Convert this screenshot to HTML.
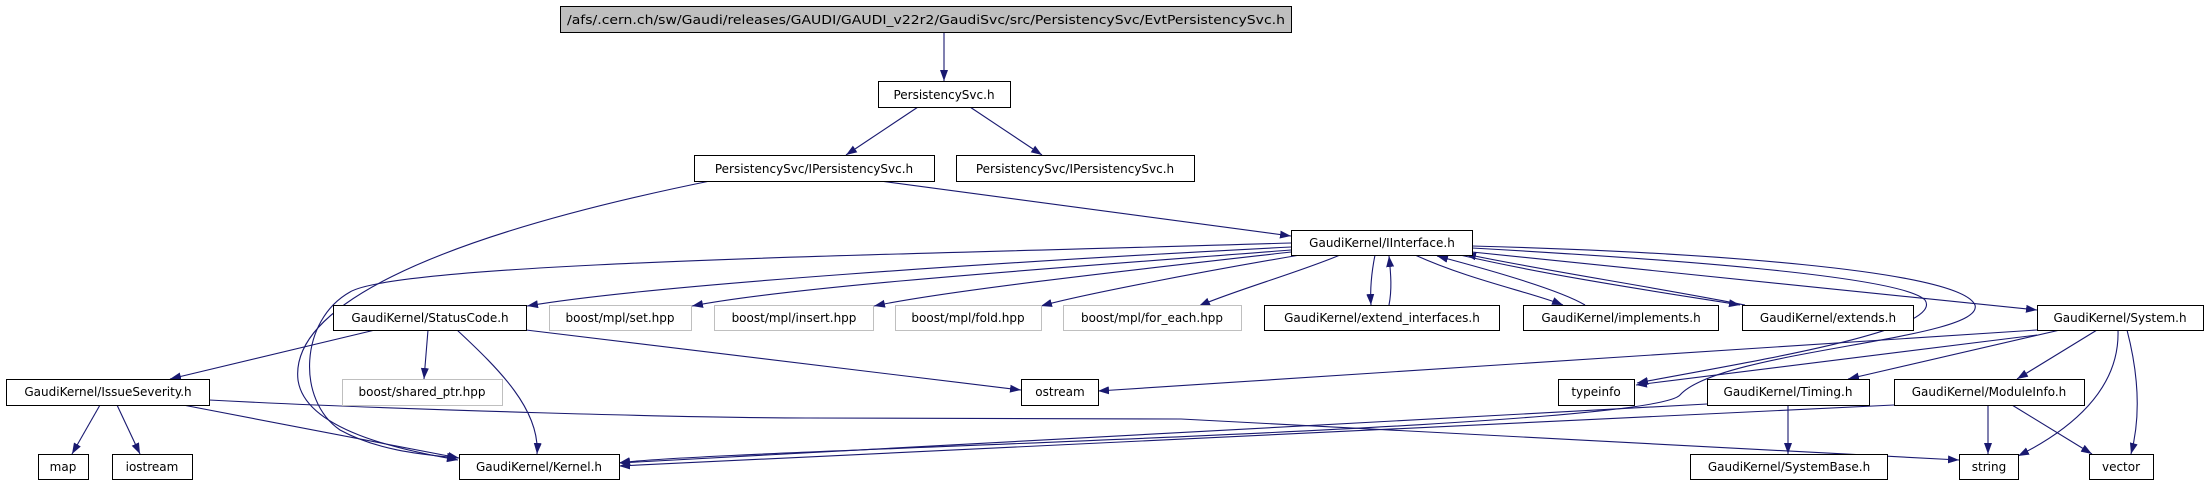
<!DOCTYPE html>
<html><head><meta charset="utf-8"><style>
html,body{margin:0;padding:0;background:#fff;}
svg{display:block;}
text{font-family:"DejaVu Sans","Liberation Sans",sans-serif;font-size:12px;fill:#000;}
</style></head><body>
<svg width="2208" height="485" viewBox="0 0 2208 485" xmlns="http://www.w3.org/2000/svg">
<defs>
<marker id="a" markerUnits="userSpaceOnUse" markerWidth="12" markerHeight="10" refX="11" refY="4" orient="auto">
<path d="M0,0 L11,4 L0,8 z" fill="#191970"/>
</marker>
</defs>
<g fill="none" stroke="#191970" stroke-width="1.1" marker-end="url(#a)">
<path d="M944,32 L944,81"/>
<path d="M918,107 L846,155"/>
<path d="M970,107 L1042,155"/>
<path d="M710,181 C420,240 290,310 298,380 C305,430 400,450 458,460"/>
<path d="M880,181 L1291,236"/>
<path d="M1291,243 C900,255 400,262 350,292 C300,320 296,400 340,430 C380,452 430,455 458,458"/>
<path d="M1291,247 C1000,262 650,285 527,306"/>
<path d="M1291,250 C1100,265 800,285 692,306"/>
<path d="M1291,252 C1150,268 950,290 874,306"/>
<path d="M1300,255 C1200,272 1080,295 1041,306"/>
<path d="M1340,255 C1300,272 1230,292 1199,306"/>
<path d="M1375,255 C1371,275 1370,290 1371,305"/>
<path d="M1389,305 C1392,290 1391,275 1389,256"/>
<path d="M1415,255 C1470,280 1530,292 1563,305"/>
<path d="M1585,305 C1560,290 1490,270 1437,256"/>
<path d="M1460,255 C1560,278 1680,295 1740,305"/>
<path d="M1745,305 C1660,288 1540,270 1465,254"/>
<path d="M1472,252 C1700,275 1900,295 2037,310"/>
<path d="M1472,248 C1650,258 1900,275 1925,300 C1945,330 1760,360 1637,383"/>
<path d="M1472,246 C1700,252 1960,270 1975,305 C1985,340 1720,350 1680,395 C1650,430 700,450 619,463"/>
<path d="M375,330 L170,379"/>
<path d="M428,330 L424,379"/>
<path d="M457,330 C500,370 540,410 537,454"/>
<path d="M526,330 L1021,390"/>
<path d="M2037,330 L1098,391"/>
<path d="M2037,335 L1636,385"/>
<path d="M2060,330 L1848,379"/>
<path d="M2097,330 L2017,379"/>
<path d="M2118,330 C2120,390 2070,430 2018,456"/>
<path d="M2127,330 C2140,380 2140,420 2131,454"/>
<path d="M100,405 L72,454"/>
<path d="M117,405 L140,454"/>
<path d="M183,405 L459,458"/>
<path d="M209,400 C400,410 700,418 807,418 L1181,419 L1959,460"/>
<path d="M1707,404 L619,463"/>
<path d="M1788,405 L1788,454"/>
<path d="M1894,405 L619,466"/>
<path d="M1988,405 L1988,454"/>
<path d="M2012,405 L2092,454"/>
</g>
<g stroke-width="1" shape-rendering="crispEdges">
<rect x="560.5" y="6.5" width="731" height="26" fill="#bfbfbf" stroke="#000"/>
<rect x="878.5" y="81.5" width="132" height="26" fill="#fff" stroke="#000"/>
<rect x="694.5" y="155.5" width="240" height="26" fill="#fff" stroke="#000"/>
<rect x="956.5" y="155.5" width="238" height="26" fill="#fff" stroke="#000"/>
<rect x="1291.5" y="230.5" width="181" height="25" fill="#fff" stroke="#000"/>
<rect x="333.5" y="305.5" width="193" height="25" fill="#fff" stroke="#000"/>
<rect x="549.5" y="305.5" width="142" height="25" fill="#fff" stroke="#bfbfbf"/>
<rect x="714.5" y="305.5" width="159" height="25" fill="#fff" stroke="#bfbfbf"/>
<rect x="895.5" y="305.5" width="146" height="25" fill="#fff" stroke="#bfbfbf"/>
<rect x="1063.5" y="305.5" width="178" height="25" fill="#fff" stroke="#bfbfbf"/>
<rect x="1264.5" y="305.5" width="235" height="25" fill="#fff" stroke="#000"/>
<rect x="1523.5" y="305.5" width="195" height="25" fill="#fff" stroke="#000"/>
<rect x="1742.5" y="305.5" width="171" height="25" fill="#fff" stroke="#000"/>
<rect x="2037.5" y="305.5" width="166" height="25" fill="#fff" stroke="#000"/>
<rect x="6.5" y="379.5" width="203" height="26" fill="#fff" stroke="#000"/>
<rect x="342.5" y="379.5" width="160" height="26" fill="#fff" stroke="#bfbfbf"/>
<rect x="1021.5" y="379.5" width="77" height="26" fill="#fff" stroke="#000"/>
<rect x="1558.5" y="379.5" width="76" height="26" fill="#fff" stroke="#000"/>
<rect x="1707.5" y="379.5" width="162" height="26" fill="#fff" stroke="#000"/>
<rect x="1894.5" y="379.5" width="190" height="26" fill="#fff" stroke="#000"/>
<rect x="38.5" y="454.5" width="50" height="25" fill="#fff" stroke="#000"/>
<rect x="112.5" y="454.5" width="80" height="25" fill="#fff" stroke="#000"/>
<rect x="459.5" y="454.5" width="160" height="25" fill="#fff" stroke="#000"/>
<rect x="1690.5" y="454.5" width="197" height="25" fill="#fff" stroke="#000"/>
<rect x="1959.5" y="454.5" width="59" height="25" fill="#fff" stroke="#000"/>
<rect x="2089.5" y="454.5" width="64" height="25" fill="#fff" stroke="#000"/>
</g>
<g text-anchor="middle">
<text x="926" y="24" textLength="718" lengthAdjust="spacingAndGlyphs">/afs/.cern.ch/sw/Gaudi/releases/GAUDI/GAUDI_v22r2/GaudiSvc/src/PersistencySvc/EvtPersistencySvc.h</text>
<text x="944" y="99">PersistencySvc.h</text>
<text x="814" y="173">PersistencySvc/IPersistencySvc.h</text>
<text x="1075" y="173">PersistencySvc/IPersistencySvc.h</text>
<text x="1382" y="247">GaudiKernel/IInterface.h</text>
<text x="430" y="322">GaudiKernel/StatusCode.h</text>
<text x="620" y="322">boost/mpl/set.hpp</text>
<text x="794" y="322">boost/mpl/insert.hpp</text>
<text x="968" y="322">boost/mpl/fold.hpp</text>
<text x="1152" y="322">boost/mpl/for_each.hpp</text>
<text x="1382" y="322">GaudiKernel/extend_interfaces.h</text>
<text x="1621" y="322">GaudiKernel/implements.h</text>
<text x="1828" y="322">GaudiKernel/extends.h</text>
<text x="2120" y="322">GaudiKernel/System.h</text>
<text x="108" y="396">GaudiKernel/IssueSeverity.h</text>
<text x="422" y="396">boost/shared_ptr.hpp</text>
<text x="1060" y="396">ostream</text>
<text x="1596" y="396">typeinfo</text>
<text x="1788" y="396">GaudiKernel/Timing.h</text>
<text x="1989" y="396">GaudiKernel/ModuleInfo.h</text>
<text x="63" y="471">map</text>
<text x="152" y="471">iostream</text>
<text x="539" y="471">GaudiKernel/Kernel.h</text>
<text x="1789" y="471">GaudiKernel/SystemBase.h</text>
<text x="1989" y="471">string</text>
<text x="2121" y="471">vector</text>
</g>
</svg>
</body></html>
